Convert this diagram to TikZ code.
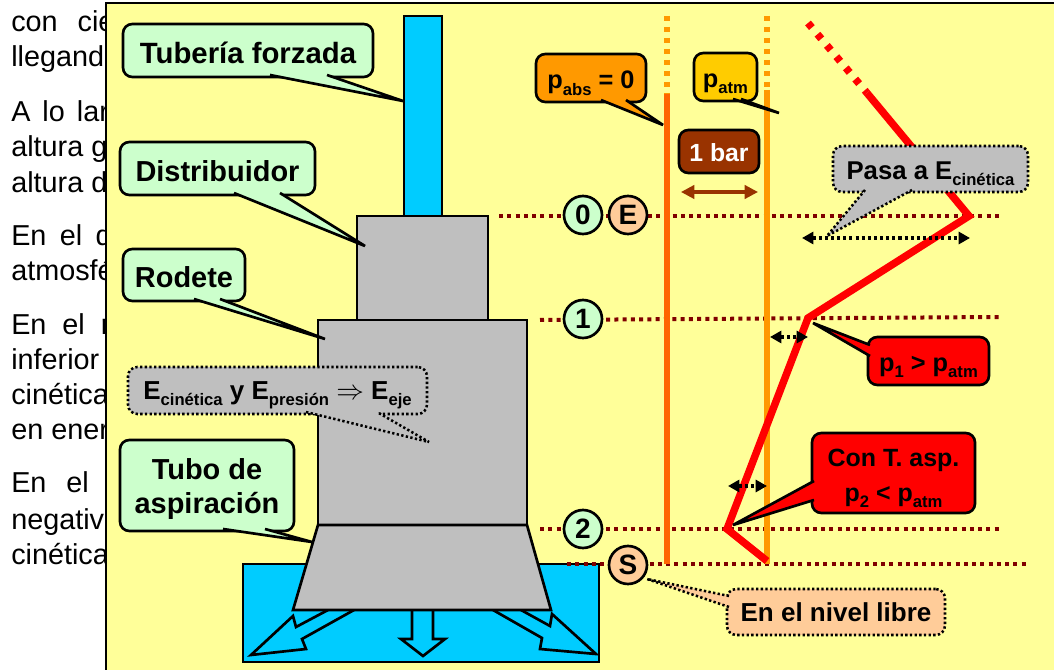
\documentclass[tikz,border=0pt]{standalone}
\usepackage{fontspec}
\setmainfont{Liberation Sans}
\usetikzlibrary{calc,arrows.meta}

\definecolor{amarillo}{HTML}{FFFF99}
\definecolor{agua}{HTML}{00CCFF}
\definecolor{gris}{HTML}{BFBFBF}
\definecolor{verdecl}{HTML}{CCFFCC}
\definecolor{salmon}{HTML}{FFCC99}
\definecolor{naranja}{HTML}{FF9900}
\definecolor{naranjaosc}{HTML}{FF6600}
\definecolor{oro}{HTML}{FFCC00}
\definecolor{marron}{HTML}{993300}
\definecolor{granate}{HTML}{800000}

\newcommand{\subi}[1]{\raisebox{-0.25em}{\fontsize{12.5}{12.5}\selectfont #1}}
\newcommand{\tope}[1]{\rule{0pt}{#1}}

\tikzset{
	letra/.style={font=\fontsize{#1}{26}\selectfont\bfseries},
	caja/.style 2 args={draw, line width=2pt, rounded corners=7pt, inner sep=0pt, outer sep=0pt, anchor=north west, align=center, minimum width=#1*0.75pt, minimum height=#2*0.75pt},
	punta/.style={draw, line width=2pt, line join=bevel},
	puntos/.style={line width=1.9pt, dash pattern=on 1.75pt off 1.75pt},
	nivel/.style={draw=granate, line width=3pt, dash pattern=on 3pt off 3.2pt},
	circulo/.style={circle, draw, line width=2pt, minimum size=28.5pt, inner sep=0pt, letra=21},
	izquierda/.style={anchor=base west, inner sep=0pt, font=\fontsize{21.6}{26}\selectfont},
	puntafl/.style={line width=2.5pt, dash pattern=on 2.3pt off 2.3pt, {Triangle[length=8.5pt,width=9pt]}-{Triangle[length=8.5pt,width=9pt]}},
}

\begin{document}
\begin{tikzpicture}[x=0.75pt, y=-0.75pt]
	\useasboundingbox (0,0) rectangle (1054,670);

	% texto de fondo
	\foreach \y/\txt [count=\i] in {32/{con\hspace{15pt}cie}, 67/llegand, 122/{A\hspace{9pt}lo\hspace{9pt}lar}, 157/altura g, 193/altura d, 246/{En\hspace{10pt}el\hspace{10pt}d}, 281/atmosfé, 335/{En\hspace{12pt}el\hspace{12pt}r}, 370/inferior, 405/cinética, 440/en ener, 492/{En\hspace{15pt}el\hspace{13pt}t}, 529/negativ, 564/cinética}
		\node[izquierda] (izq\i) at (11,\y) {\txt};

	% panel
	\fill[amarillo] (106,3) rectangle (1054,670);
	\draw[line width=2.2pt] (106,670) -- (106,3) -- (1054,3);

	% turbina
	\draw[line width=2pt, fill=agua] (243,564) rectangle (599,662);
	\draw[line width=2pt, fill=agua] (328,610) -- (296,627) -- (293,616) -- (251,655) -- (306,649) -- (302,639) -- (354,610);
	\draw[line width=2pt, fill=agua] (412,610) -- (412,639) -- (401,639) -- (423,656) -- (445,639) -- (433,639) -- (433,610);
	\draw[line width=2pt, fill=agua] (493,610) -- (542,638) -- (540,649) -- (596,654) -- (552,614) -- (550,626) -- (521,610);
	\draw[line width=2pt, fill=agua] (404,16) rectangle (442,216);
	\draw[line width=2pt, fill=gris] (357,216) rectangle (488,320);
	\draw[line width=2pt, fill=gris] (318,320) rectangle (527,525);
	\draw[line width=2pt, fill=gris] (318,525) -- (527,525) -- (551,610) -- (293,610) -- cycle;

	% niveles
	\draw[nivel] (499,216) -- (1000,216);
	\draw[nivel] (540,320) -- (1000,317);
	\draw[nivel] (540,529) -- (1000,529);
	\draw[nivel] (567,564) -- (1026,564);

	% presiones
	\draw[naranja, line width=4.2pt, dash pattern=on 4.1pt off 4.15pt] (667,16) -- (667,94);
	\draw[naranjaosc, line width=4.2pt] (667,94) -- (667,564);
	\draw[naranja, line width=4.2pt, dash pattern=on 4.1pt off 4.15pt] (767,16) -- (767,90);
	\draw[naranja, line width=4.2pt] (767,90) -- (767,564);

	\draw[red, line width=5.6pt, dash pattern=on 4.5pt off 6.5pt] (808,23) -- (867,93);
	\draw[red, line width=5.6pt] (867,93) -- (969,216) -- (808,318) -- (727,529) -- (767,561);

	\coordinate (cinA) at (802,238);
	\coordinate (cinB) at (970,238);
	\coordinate (supA) at (770,337);
	\coordinate (supB) at (808,337);
	\coordinate (infA) at (728,486);
	\coordinate (infB) at (767,486);
	\coordinate (barA) at (681,192);
	\coordinate (barB) at (758,192);
	\draw[puntafl] (cinA) -- (cinB);
	\draw[puntafl] (supA) -- (supB);
	\draw[puntafl] (infA) -- (infB);
	\draw[marron, line width=2.3pt, {Triangle[length=10pt,width=10pt]}-{Triangle[length=10pt,width=10pt]}] (barA) -- (barB);

	% circulos
	\node[circulo, fill=verdecl] (n0) at (583,215) {0};
	\node[circulo, fill=salmon] (nE) at (628,215) {E};
	\node[circulo, fill=verdecl] (n1) at (583,319) {1};
	\node[circulo, fill=verdecl] (n2) at (583,529) {2};
	\node[circulo, fill=salmon] (nS) at (628,565) {S};

	% rotulos
	\node[caja={250}{53}, fill=verdecl, letra=22] (tub) at (123,24) {\tope{19pt}Tubería forzada};
	\node[caja={195}{53}, fill=verdecl, letra=21.7] (dis) at (120,142) {\tope{19pt}Distribuidor};
	\node[caja={122}{52}, fill=verdecl, letra=21.7] (rod) at (123,249) {\tope{19pt}Rodete};
	\node[caja={174}{91}, fill=verdecl, letra=21.7] (asp) at (120,440) {\tope{21pt}Tubo de\\aspiración};
	\node[caja={110}{48}, fill=naranja, letra=19] (abs) at (536,54) {\tope{21pt}p\subi{abs} = 0};
	\node[caja={63}{48}, fill=oro, letra=19] (atm) at (694,53) {\tope{20.5pt}p\subi{atm}};
	\node[caja={80}{43}, fill=marron, text=white, letra=18.6] (bar) at (679,130) {\tope{15pt}1 bar};
	\node[caja={121}{48}, fill=red, letra=19] (may) at (868,337) {\tope{20.5pt}p\subi{1} > p\subi{atm}};
	\node[caja={163}{80}, fill=red, letra=18.7] (con) at (812,433) {\tope{21pt}Con T. asp.\\p\subi{2} < p\subi{atm}};
	\node[caja={299}{47}, fill=gris, puntos, letra=19.5] (eje) at (128,367) {\tope{20.5pt}E\subi{cinética} y E\subi{presión} $\Rightarrow$ E\subi{eje}};
	\node[caja={195}{46}, fill=gris, puntos, letra=19.3] (pas) at (833,146) {\tope{20pt}Pasa a E\subi{cinética}};
	\node[caja={218}{46}, fill=salmon, puntos, letra=19.5] (lib) at (727,589) {En el nivel libre};

	% picos
	\coordinate (tubP) at (403,101);
	\coordinate (disP) at (365,246);
	\coordinate (rodP) at (325,339);
	\coordinate (aspP) at (312,542);
	\coordinate (absP) at (663,125);
	\coordinate (atmP) at (779,113);
	\coordinate (mayP) at (813,323);
	\coordinate (conP) at (733,525);
	\coordinate (ejeP) at (429,442);
	\coordinate (pasP) at (827,236);
	\coordinate (libP) at (647,579);
	\draw[punta, fill=verdecl] ($(tub.south west)+(147,-2)$) -- (tubP) -- ($(tub.south west)+(204,-2)$);
	\draw[punta, fill=verdecl] ($(dis.south west)+(114,-2)$) -- (disP) -- ($(dis.south west)+(160,-2)$);
	\draw[punta, fill=verdecl] ($(rod.south west)+(71,-2)$) -- (rodP) -- ($(rod.south west)+(97,-2)$);
	\draw[punta, fill=verdecl] ($(asp.south west)+(103,-2)$) -- (aspP) -- ($(asp.south west)+(145,-2)$);
	\draw[punta, fill=naranja] ($(abs.south west)+(65,-2)$) -- (absP) -- ($(abs.south west)+(90,-2)$);
	\draw[punta, fill=oro] ($(atm.south west)+(39,-2)$) -- (atmP) -- ($(atm.south west)+(47,-2)$);
	\draw[punta, fill=red] ($(may.north west)+(2,8)$) -- (mayP) -- ($(may.north west)+(2,19)$);
	\draw[punta, fill=red] ($(con.north west)+(2,48)$) -- (conP) -- ($(con.north west)+(2,67)$);
	\draw[punta, puntos, fill=gris] ($(eje.south west)+(178,-2)$) -- (ejeP) -- ($(eje.south west)+(249,-2)$);
	\draw[punta, puntos, fill=gris] ($(pas.south west)+(32,-2)$) -- (pasP) -- ($(pas.south west)+(79,-2)$);
	\draw[punta, puntos, fill=salmon] ($(lib.north west)+(2,7)$) -- (libP) -- ($(lib.north west)+(2,18)$);

\end{tikzpicture}
\end{document}
